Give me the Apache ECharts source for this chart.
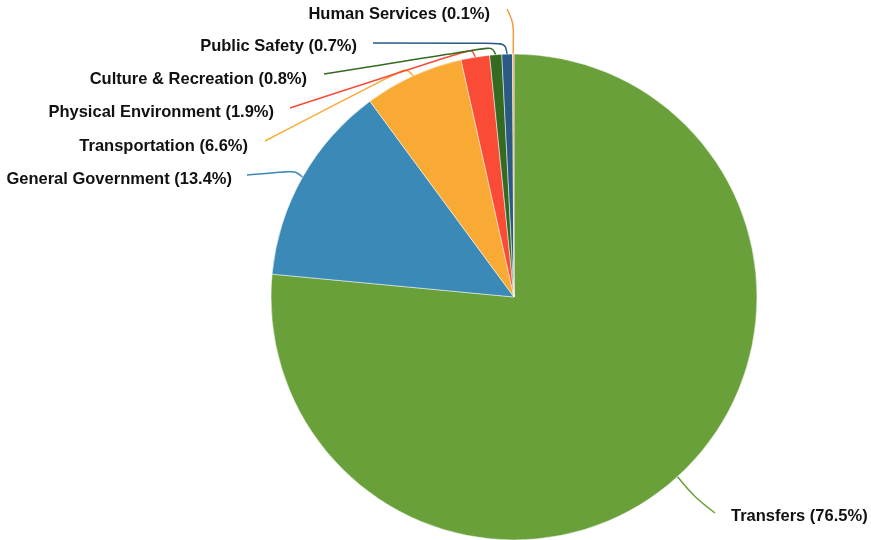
<!DOCTYPE html>
<html>
<head>
<meta charset="utf-8">
<script src="https://cdn.jsdelivr.net/npm/echarts@6/dist/echarts.min.js"></script>
<style>
  html, body { margin: 0; padding: 0; background: #ffffff; }
  #chart { width: 871px; height: 540px; }
</style>
</head>
<body>
<div id="chart"></div>
<script>
// Spending by function, share of total (%)
const categories = [
  'Transfers',
  'General Government',
  'Transportation',
  'Physical Environment',
  'Culture & Recreation',
  'Public Safety',
  'Human Services'
];
const shares = [76.5, 13.4, 6.6, 1.9, 0.8, 0.7, 0.1];
const sliceColors = ['#69a03a', '#3b89b6', '#f8aa35', '#f94b36', '#356a21', '#2a5a83', '#f39a45'];

// Label placement: anchor of each label, bend point and end point of its leader line
const labelAnchors = [[731, 516], [232, 179], [248, 146], [274, 112], [307, 79], [357, 46], [490, 14]];
const lineBends   = [[694, 497], [296, 171], [406, 68], [472, 49], [492, 47], [505, 43], [513.5, 22]];
const lineEnds    = [[715, 513], [247, 175], [265, 141], [290, 108], [324, 74], [373, 43], [507, 9]];

const CENTER = [514, 297];
const RADIUS = 243;

// Point on the outer arc at the middle of slice i (start at 12 o'clock, clockwise)
function arcPoint(i) {
  const total = shares.reduce((a, b) => a + b, 0);
  let before = 0;
  for (let k = 0; k < i; k++) before += shares[k];
  const ang = ((before + shares[i] / 2) / total) * Math.PI * 2;
  return [CENTER[0] + RADIUS * Math.sin(ang), CENTER[1] - RADIUS * Math.cos(ang)];
}

const chart = echarts.init(document.getElementById('chart'), null, { renderer: 'canvas' });

chart.setOption({
  backgroundColor: '#ffffff',
  animation: true,
  animationDuration: 0,
  animationDurationUpdate: 0,
  series: [{
    type: 'pie',
    center: CENTER,
    radius: [0, RADIUS],
    startAngle: 90,
    clockwise: true,
    percentPrecision: 1,
    avoidLabelOverlap: false,
    itemStyle: { borderColor: '#ffffff', borderWidth: 0.5 },
    label: {
      show: true,
      position: 'outside',
      formatter: '{b} ({d}%)',
      color: '#111111',
      fontFamily: '"Liberation Sans", Arial, Helvetica, sans-serif',
      fontWeight: 'bold',
      fontSize: 16.5
    },
    labelLine: {
      show: true,
      smooth: 0.35,
      length: 10,
      length2: 10,
      lineStyle: { width: 1.5 }
    },
    labelLayout: function (p) {
      const i = p.dataIndex;
      const a = labelAnchors[i];
      return {
        x: a[0],
        y: a[1],
        align: i === 0 ? 'left' : 'right',
        verticalAlign: 'middle',
        labelLinePoints: [arcPoint(i), lineBends[i], lineEnds[i]]
      };
    },
    emphasis: { disabled: true },
    data: categories.map((name, i) => ({
      name: name,
      value: shares[i],
      itemStyle: { color: sliceColors[i] },
      labelLine: { lineStyle: { color: sliceColors[i] } }
    }))
  }]
});
</script>
</body>
</html>
